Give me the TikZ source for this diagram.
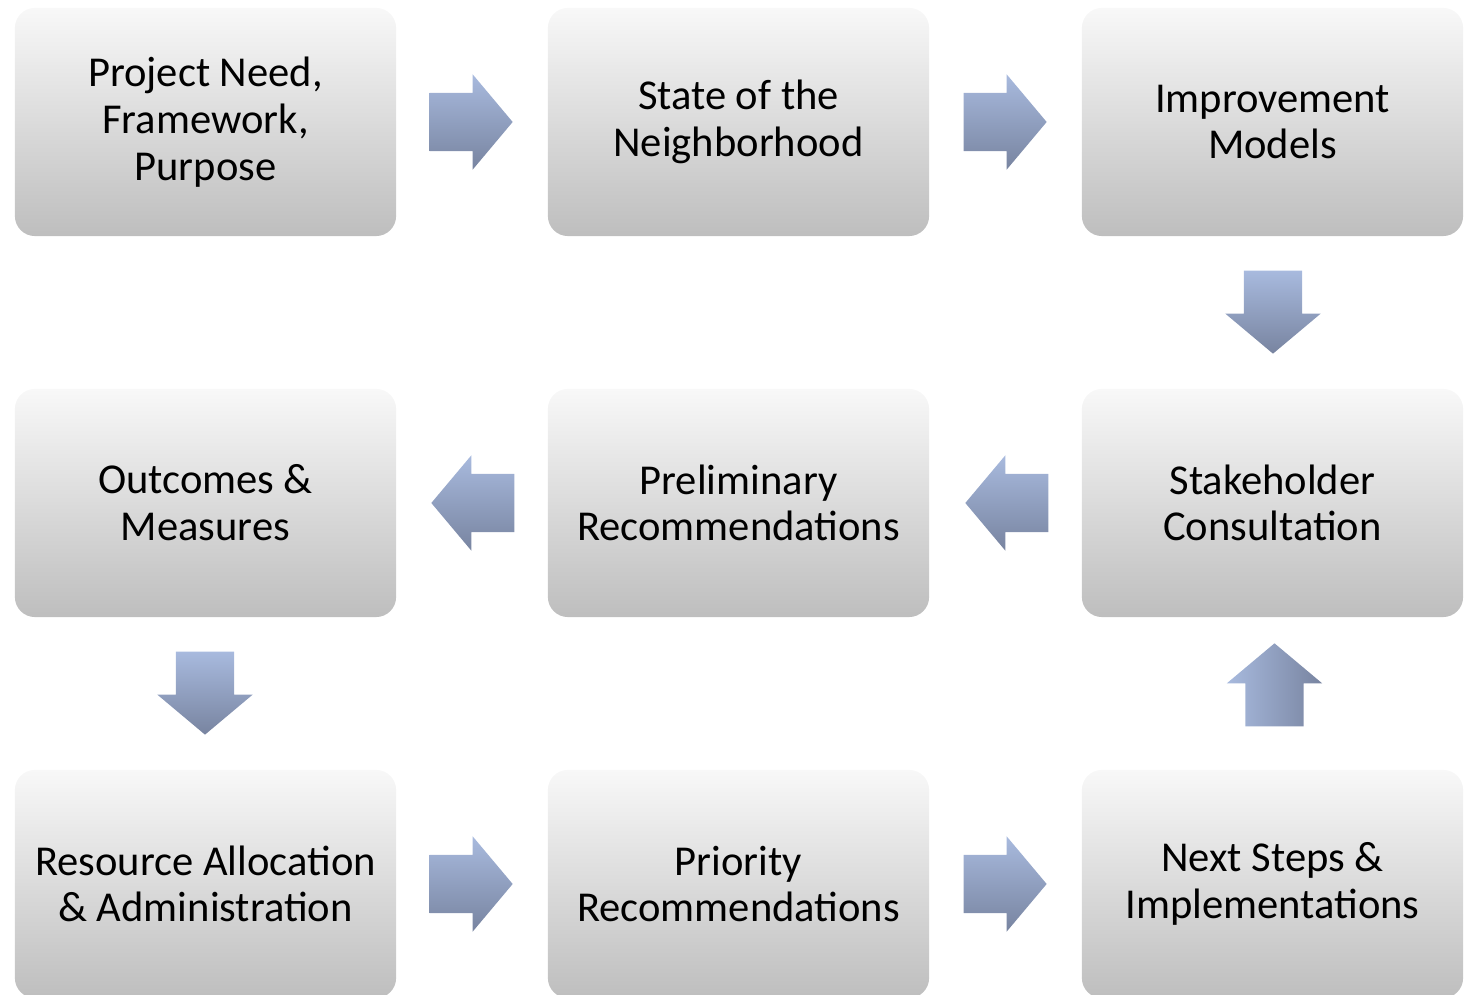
\documentclass[tikz,border=0pt]{standalone}
\usepackage{fontspec}
\setmainfont{Carlito}
\usetikzlibrary{shapes.arrows, calc}
\definecolor{boxtop}{RGB}{248,248,248}
\definecolor{boxmid}{RGB}{226,226,226}
\definecolor{boxbot}{RGB}{190,190,190}
\definecolor{arrowlight}{RGB}{168,186,222}
\definecolor{arrowdark}{RGB}{120,132,160}
\tikzset{
    stagebox/.style = {rectangle, rounded corners = 0.2cm, minimum width = 3.81cm,
        minimum height = 2.28cm, top color = boxtop, middle color = boxmid,
        bottom color = boxbot, align = center, inner sep = 0pt,
        font = \fontsize{12.1}{13.3}\selectfont},
    blockarrow/.style = {single arrow, minimum height = 0.81cm, anchor = tail,
        single arrow head extend = 0.185cm, single arrow tip angle = 100,
        inner sep = 0.285cm, top color = arrowlight, bottom color = arrowdark},
    uparrow/.style = {blockarrow, left color = arrowlight, right color = arrowdark}
}

\begin{document}
\begin{tikzpicture}[x = 0.01cm, y = -0.01cm]
    \useasboundingbox (0,0) rectangle (1465,995);
    \clip (0,0) rectangle (1465,995);
    % stages
    \node[stagebox] (need)  at (205.5,122) {Project Need,\\Framework,\\Purpose};
    \node[stagebox] (state) at (738.5,122) {State of the\\Neighborhood};
    \node[stagebox] (model) at (1272.5,122) {Improvement\\Models};
    \node[stagebox] (outc)  at (205.5,503) {Outcomes \&\\Measures};
    \node[stagebox] (prel)  at (738.5,503) {Preliminary\\Recommendations};
    \node[stagebox] (stake) at (1272.5,503) {Stakeholder\\Consultation};
    \node[stagebox] (reso)  at (205.5,884) {Resource Allocation\\\& Administration};
    \node[stagebox] (prio)  at (738.5,884) {Priority\\Recommendations};
    \node[stagebox] (next)  at (1272.5,884) {Next Steps \&\\Implementations};
    % arrows (placed by their tails)
    \node[blockarrow] (need-state)  at (429,122) {};
    \node[blockarrow] (state-model) at (963,122) {};
    \node[blockarrow, shape border rotate = 270] (model-stake) at (1273,270) {};
    \node[blockarrow, shape border rotate = 180] (stake-prel) at (1049,503) {};
    \node[blockarrow, shape border rotate = 180] (prel-outc)  at (515,503) {};
    \node[blockarrow, shape border rotate = 270] (outc-reso)  at (205,651) {};
    \node[blockarrow] (reso-prio) at (429,884) {};
    \node[blockarrow] (prio-next) at (963,884) {};
    \node[uparrow, shape border rotate = 90] (next-stake) at (1274.5,727) {};
\end{tikzpicture}
\end{document}
